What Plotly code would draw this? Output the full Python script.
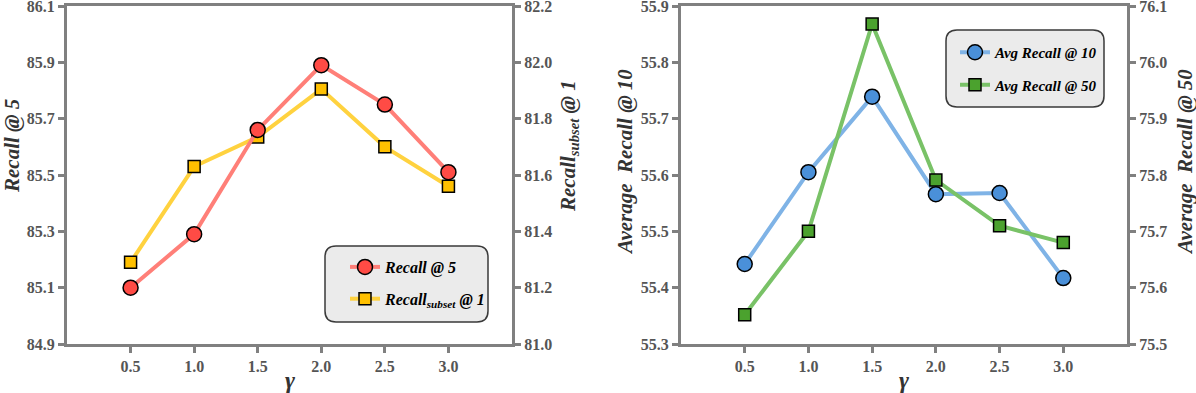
import plotly.graph_objects as go

# gamma values shared by both panels
gamma = [0.5, 1.0, 1.5, 2.0, 2.5, 3.0]
gamma_labels = ["0.5", "1.0", "1.5", "2.0", "2.5", "3.0"]

# left panel
recall_5 = [85.10, 85.29, 85.66, 85.89, 85.75, 85.51]
recall_subset_1 = [81.29, 81.63, 81.735, 81.905, 81.70, 81.56]

# right panel
avg_recall_10 = [55.442, 55.605, 55.739, 55.566, 55.568, 55.417]
avg_recall_50 = [75.552, 75.70, 76.068, 75.791, 75.71, 75.68]

W, H = 1196, 393
SERIF = "Liberation Serif"
AXC = "#808080"
EPS = 1e-6  # so the top tick label is not dropped


def px_x(p):
    return p / W


def px_y(p):
    return 1 - p / H


def rounded_box(x0, y0, x1, y1, r=11):
    # pixel box -> paper path with rounded corners
    X = lambda v: px_x(v)
    Y = lambda v: px_y(v)
    return (f"M {X(x0 + r)},{Y(y0)} L {X(x1 - r)},{Y(y0)} Q {X(x1)},{Y(y0)} {X(x1)},{Y(y0 + r)} "
            f"L {X(x1)},{Y(y1 - r)} Q {X(x1)},{Y(y1)} {X(x1 - r)},{Y(y1)} "
            f"L {X(x0 + r)},{Y(y1)} Q {X(x0)},{Y(y1)} {X(x0)},{Y(y1 - r)} "
            f"L {X(x0)},{Y(y0 + r)} Q {X(x0)},{Y(y0)} {X(x0 + r)},{Y(y0)} Z")


fig = go.Figure()

# yellow first (drawn under red)
fig.add_trace(go.Scatter(
    x=gamma, y=recall_subset_1, xaxis="x", yaxis="y",
    mode="lines+markers", name="<b><i>Recall<sub>subset</sub> @ 1</i></b>",
    line=dict(color="#FFD23F", width=4),
    marker=dict(symbol="square", size=12, color="#FFC000", line=dict(color="black", width=1.5)),
    legend="legend", legendrank=2, legendgroup="a2",
))
fig.add_trace(go.Scatter(
    x=gamma, y=recall_5, xaxis="x", yaxis="y2",
    mode="lines+markers", name="<b><i>Recall @ 5</i></b>",
    line=dict(color="#FF7F78", width=4),
    marker=dict(symbol="circle", size=15, color="#FF4B45", line=dict(color="black", width=1.5)),
    legend="legend", legendrank=1, legendgroup="a1",
))
fig.add_trace(go.Scatter(
    x=gamma, y=avg_recall_10, xaxis="x2", yaxis="y3",
    mode="lines+markers", name="<b><i>Avg Recall @ 10</i></b>",
    line=dict(color="#7FB3E6", width=4),
    marker=dict(symbol="circle", size=15, color="#4A90D9", line=dict(color="black", width=1.5)),
    legend="legend2", legendgroup="b1",
))
fig.add_trace(go.Scatter(
    x=gamma, y=avg_recall_50, xaxis="x2", yaxis="y4",
    mode="lines+markers", name="<b><i>Avg Recall @ 50</i></b>",
    line=dict(color="#79C267", width=4),
    marker=dict(symbol="square", size=12, color="#4BA22E", line=dict(color="black", width=1.5)),
    legend="legend2", legendgroup="b2",
))

tickfont = dict(family=SERIF, size=16, color="#555555", weight="bold")
common_x = dict(range=[0, 3.5], tickvals=gamma, ticktext=gamma_labels, showline=True,
                linecolor=AXC, linewidth=3, mirror=True, ticks="outside", ticklen=6,
                tickwidth=3, tickcolor=AXC, showgrid=False, zeroline=False, tickfont=tickfont,
                automargin=False)
common_y = dict(showline=True, linecolor=AXC, linewidth=3, ticks="outside", ticklen=6,
                tickwidth=3, tickcolor=AXC, showgrid=False, zeroline=False, tickfont=tickfont,
                tickformat=".1f", ticklabeloverflow="allow", automargin=False)

ydom = [px_y(344), px_y(6)]
fig.update_layout(
    width=W, height=H, margin=dict(l=0, r=0, t=0, b=0, autoexpand=False),
    paper_bgcolor="white", plot_bgcolor="white",
    xaxis=dict(domain=[px_x(67), px_x(512)], anchor="y", **common_x),
    xaxis2=dict(domain=[px_x(681), px_x(1127)], anchor="y3", **common_x),
    yaxis=dict(domain=ydom, anchor="x", side="right", range=[81.0, 82.2 + EPS], tick0=81.0, dtick=0.2, **common_y),
    yaxis2=dict(overlaying="y", anchor="x", side="left", range=[84.9, 86.1 + EPS], tick0=84.9, dtick=0.2, **common_y),
    yaxis3=dict(domain=ydom, anchor="x2", side="left", range=[55.3, 55.9 + EPS], tick0=55.3, dtick=0.1, **common_y),
    yaxis4=dict(overlaying="y3", anchor="x2", side="right", range=[75.5, 76.1 + EPS], tick0=75.5, dtick=0.1, **common_y),
    legend=dict(x=px_x(345), y=px_y(250), xanchor="left", yanchor="top", bgcolor="rgba(0,0,0,0)",
                font=dict(family=SERIF, size=16, color="black"), tracegroupgap=8, itemwidth=30),
    legend2=dict(x=px_x(955), y=px_y(36), xanchor="left", yanchor="top", bgcolor="rgba(0,0,0,0)",
                 font=dict(family=SERIF, size=15, color="black"), tracegroupgap=10, itemwidth=30),
    showlegend=True,
)

fig.add_shape(type="path", path=rounded_box(325, 246, 488, 322), xref="paper", yref="paper",
              fillcolor="#EBEBEB", line=dict(color="#3a3a3a", width=1.5), layer="below")
fig.add_shape(type="path", path=rounded_box(946, 30, 1104, 107), xref="paper", yref="paper",
              fillcolor="#EBEBEB", line=dict(color="#3a3a3a", width=1.5), layer="below")

title_font = dict(family=SERIF, size=21, color="#333333")
titles = [
    ("<b><i>Recall @ 5</i></b>", 12, 146, -90),
    ("<b><i>Recall<sub>subset</sub> @ 1</i></b>", 569, 146, -90),
    ("<b><i>Average\u00a0 Recall @ 10</i></b>", 625, 162, -90),
    ("<b><i>Average\u00a0 Recall @ 50</i></b>", 1185, 162, -90),
    ("<b><i>γ</i></b>", 290, 380, 0),
    ("<b><i>γ</i></b>", 904, 380, 0),
]
for text, x, y, ang in titles:
    f = dict(title_font)
    if ang == 0:
        f["size"] = 24
    fig.add_annotation(text=text, x=px_x(x), y=px_y(y), xref="paper", yref="paper",
                       showarrow=False, textangle=ang, font=f, xanchor="center", yanchor="middle")

# drop the default 8px body margin so the figure sits at the window corner
fig.write_html("out.html", config={"displayModeBar": False},
               post_script="document.body.style.margin = '0';")
